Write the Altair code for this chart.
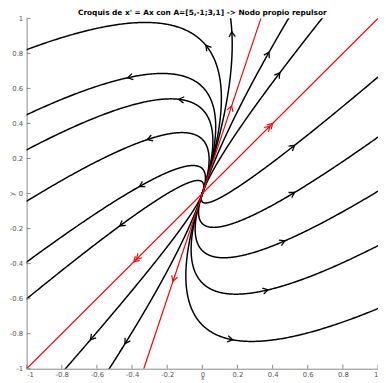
import altair as alt
import numpy as np
import pandas as pd

# ---- data ----
A = [[5, -1], [3, 1]]
title_text = ["Croquis de x' = Ax con A=[5,-1;3,1] -> Nodo propio repulsor"]

# points (where each trajectory's arrowhead sits) that define the trajectories
arrow_x = [0.02, -0.425, -0.134, -0.313, -0.358, -0.47, -0.637, -0.44,
           0.168, 0.38, 0.441, 0.525, 0.525, 0.47, 0.374, 0.173]
arrow_y = [0.846, 0.661, 0.538, 0.308, 0.04, -0.185, -0.835, -0.857,
           0.924, 0.807, 0.689, 0.275, 0.006, -0.27, -0.55, -0.835]

# arrowheads on the eigenvector lines
red_arrow_x = [0.385, 0.40, -0.375, -0.39, 0.167, -0.167]
red_arrow_y = [0.385, 0.40, -0.375, -0.39, 0.5, -0.5]

tick_values = [-1, -0.8, -0.6, -0.4, -0.2, 0, 0.2, 0.4, 0.6, 0.8, 1]

W, H = 358, 357
M = np.array(A, dtype=float)
lam, V = np.linalg.eig(M)
Vinv = np.linalg.inv(V)

# ---- trajectories of x' = Ax through the given points ----
t = np.linspace(-4.0, 1.5, 2200)
rows = []
for k, (x0, y0) in enumerate(zip(arrow_x, arrow_y)):
    c = Vinv @ np.array([x0, y0])
    X = V @ (c[:, None] * np.exp(lam[:, None] * t))
    X = np.real(X)
    out = np.where(np.max(np.abs(X), axis=0) > 1.05)[0]
    end = out[0] + 1 if len(out) else X.shape[1]
    for i in range(end):
        rows.append({"id": k, "o": i, "x": X[0, i], "y": X[1, i]})
curves = pd.DataFrame(rows)

# eigenvector lines
red_rows = []
for j in range(V.shape[1]):
    v = np.real(V[:, j])
    v = v / np.max(np.abs(v))
    red_rows.append({"id": j, "o": 0, "x": -v[0], "y": -v[1]})
    red_rows.append({"id": j, "o": 1, "x": v[0], "y": v[1]})
red = pd.DataFrame(red_rows)


def arrow_frame(xs, ys):
    r = []
    for x0, y0 in zip(xs, ys):
        v = M @ np.array([x0, y0])
        ang = np.degrees(np.arctan2(-v[1] * H / 2, v[0] * W / 2)) % 360
        r.append({"x": x0, "y": y0, "ang": ang})
    return pd.DataFrame(r)


arrows = arrow_frame(arrow_x, arrow_y)
red_arrows = arrow_frame(red_arrow_x, red_arrow_y)
ticks = pd.DataFrame({"v": tick_values})

xs = alt.Scale(domain=[-1, 1], nice=False, zero=False)
ys = alt.Scale(domain=[-1, 1], nice=False, zero=False)
lab = "'' + datum.value"

xaxis = alt.Axis(values=tick_values, labelExpr=lab, ticks=False, grid=False,
                 labelOverlap=False, title="x", labelPadding=2,
                 titleY=10.8, titleBaseline="alphabetic", titleFontSize=6)
yaxis = alt.Axis(values=tick_values, labelExpr=lab, ticks=False, grid=False,
                 labelOverlap=False, title="y", labelPadding=4,
                 titleX=-15, titleY=H / 2, titleAngle=270, titleBaseline="middle")

base_curves = alt.Chart(curves).mark_line(color="black", strokeWidth=1.5, clip=True).encode(
    x=alt.X("x:Q", scale=xs, axis=xaxis),
    y=alt.Y("y:Q", scale=ys, axis=yaxis),
    detail="id:N",
    order="o:Q",
)

red_lines = alt.Chart(red).mark_line(color="#ff0000", strokeWidth=1.2, clip=True).encode(
    x=alt.X("x:Q", scale=xs, axis=xaxis), y=alt.Y("y:Q", scale=ys, axis=yaxis),
    detail="id:N", order="o:Q"
)

chev = "M-1,-0.6L0,0L-1,0.6"
black_heads = alt.Chart(arrows).mark_point(shape=chev, filled=False, color="black", strokeWidth=1.3,
                                            size=110, opacity=1).encode(
    x=alt.X("x:Q", scale=xs, axis=xaxis), y=alt.Y("y:Q", scale=ys, axis=yaxis),
    angle=alt.Angle("ang:Q", scale=None)
)
red_heads = alt.Chart(red_arrows).mark_point(shape=chev, filled=False, color="#ff0000", strokeWidth=1.2,
                                              size=110, opacity=1).encode(
    x=alt.X("x:Q", scale=xs, axis=xaxis), y=alt.Y("y:Q", scale=ys, axis=yaxis),
    angle=alt.Angle("ang:Q", scale=None)
)

xticks = alt.Chart(ticks).mark_rule(color="#888888", strokeWidth=1).encode(
    x=alt.X("v:Q", scale=xs, axis=xaxis), y=alt.value(H), y2=alt.value(H - 4)
)
yticks = alt.Chart(ticks).mark_rule(color="#888888", strokeWidth=1).encode(
    y=alt.Y("v:Q", scale=ys, axis=yaxis), x=alt.value(0), x2=alt.value(4)
)

title_layer = alt.Chart(pd.DataFrame({"t": title_text})).mark_text(
    fontSize=7.5, fontWeight="bold", font="DejaVu Sans", color="black",
    baseline="bottom", align="center"
).encode(text="t:N", x=alt.value(W / 2), y=alt.value(-1))

chart = alt.layer(base_curves, red_lines, black_heads, red_heads, xticks, yticks, title_layer).properties(
    width=W, height=H,
    autosize=alt.AutoSizeParams(type="none"),
    padding={"left": 19, "top": 7, "right": 0, "bottom": 11},
).configure_view(stroke=None).configure_axis(
    domainColor="#888888", labelColor="#555555", labelFontSize=7, titleFontSize=7,
    labelFont="DejaVu Sans", titleFont="DejaVu Sans", titleColor="#555555", titleFontWeight="normal",
    labelOverlap=False,
)

chart.save("out.html", embed_options={"renderer": "svg", "actions": False})
